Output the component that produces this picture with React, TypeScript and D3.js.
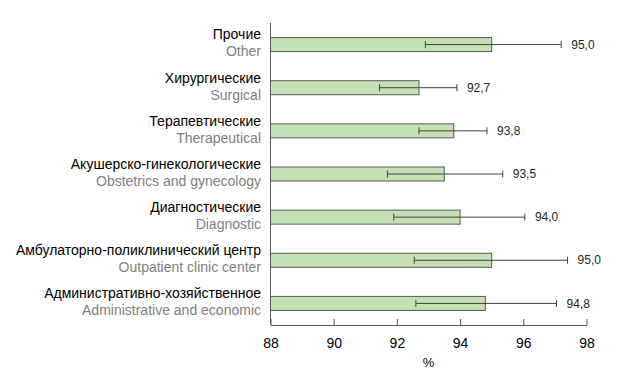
import React, { useEffect, useRef } from 'react';
import * as d3 from 'd3';

const categoriesRu = [
  'Прочие',
  'Хирургические',
  'Терапевтические',
  'Акушерско-гинекологические',
  'Диагностические',
  'Амбулаторно-поликлинический центр',
  'Административно-хозяйственное',
];
const categoriesEn = [
  'Other',
  'Surgical',
  'Therapeutical',
  'Obstetrics and gynecology',
  'Diagnostic',
  'Outpatient clinic center',
  'Administrative and economic',
];
const values = [95.0, 92.7, 93.8, 93.5, 94.0, 95.0, 94.8];
const ciLow = [92.9, 91.45, 92.7, 91.7, 91.9, 92.55, 92.6];
const ciHigh = [97.2, 93.9, 94.85, 95.35, 96.05, 97.4, 97.05];
const xTicks = [88, 90, 92, 94, 96, 98];

const App = () => {
  const ref = useRef<SVGSVGElement | null>(null);

  useEffect(() => {
    const width = 626;
    const height = 372;
    const left = 270.5;
    const right = 586.5;
    const top = 23;
    const bottom = 325;
    const font = '"Liberation Sans", Arial, sans-serif';

    const svg = d3.select(ref.current);
    svg.selectAll('*').remove();
    svg.attr('width', width).attr('height', height);

    const x = d3.scaleLinear().domain([88, 98]).range([left, right]);
    const y = d3.scaleBand<number>().domain(d3.range(values.length)).range([top, bottom]).padding(0);
    const bw = y.bandwidth();
    const barH = bw * 0.325;

    const rows = svg
      .selectAll('.row')
      .data(values)
      .enter()
      .append('g')
      .attr('class', 'row')
      .attr('transform', (_d, i) => `translate(0,${(y(i) as number) + bw / 2})`);

    // bars
    rows
      .append('rect')
      .attr('x', x(88))
      .attr('y', -barH / 2)
      .attr('width', d => x(d) - x(88))
      .attr('height', barH)
      .attr('fill', '#c5e0b4')
      .attr('stroke', '#5a5a5a')
      .attr('stroke-width', 1);

    // error bars
    rows
      .append('line')
      .attr('x1', (_d, i) => x(ciLow[i]))
      .attr('x2', (_d, i) => x(ciHigh[i]))
      .attr('stroke', '#404040');
    rows
      .append('line')
      .attr('x1', (_d, i) => x(ciLow[i]))
      .attr('x2', (_d, i) => x(ciLow[i]))
      .attr('y1', -3.5)
      .attr('y2', 3.5)
      .attr('stroke', '#404040');
    rows
      .append('line')
      .attr('x1', (_d, i) => x(ciHigh[i]))
      .attr('x2', (_d, i) => x(ciHigh[i]))
      .attr('y1', -3.5)
      .attr('y2', 3.5)
      .attr('stroke', '#404040');

    // value labels
    rows
      .append('text')
      .attr('x', (_d, i) => x(ciHigh[i]) + 10)
      .attr('dy', '0.35em')
      .style('font-family', font)
      .style('font-size', '12px')
      .style('fill', '#262626')
      .text(d => d.toFixed(1).replace('.', ','));

    // category labels
    rows
      .append('text')
      .attr('x', 261)
      .attr('y', -10)
      .attr('dy', '0.35em')
      .attr('text-anchor', 'end')
      .style('font-family', font)
      .style('font-size', '14px')
      .style('fill', '#000')
      .text((_d, i) => categoriesRu[i]);
    rows
      .append('text')
      .attr('x', 261)
      .attr('y', 7)
      .attr('dy', '0.35em')
      .attr('text-anchor', 'end')
      .style('font-family', font)
      .style('font-size', '14px')
      .style('fill', '#808080')
      .text((_d, i) => categoriesEn[i]);

    // y axis line
    svg
      .append('line')
      .attr('x1', left)
      .attr('x2', left)
      .attr('y1', top)
      .attr('y2', bottom)
      .attr('stroke', '#595959');

    // x axis
    const xAxis = svg
      .append('g')
      .attr('transform', `translate(0,${bottom})`)
      .call(
        d3
          .axisBottom(x)
          .tickValues(xTicks)
          .tickSizeInner(-6)
          .tickSizeOuter(0)
          .tickPadding(13)
          .tickFormat(d => String(d))
      );
    xAxis.select('.domain').attr('stroke', '#595959');
    xAxis.selectAll('.tick line').attr('stroke', '#595959');
    xAxis
      .selectAll('.tick text')
      .style('font-family', font)
      .style('font-size', '14px')
      .style('fill', '#000');

    svg
      .append('text')
      .attr('x', (left + right) / 2)
      .attr('y', 362)
      .attr('dy', '0.35em')
      .attr('text-anchor', 'middle')
      .style('font-family', font)
      .style('font-size', '13px')
      .style('fill', '#000')
      .text('%');
  }, []);

  return (
    <div>
      <svg ref={ref} style={{ position: 'absolute', left: 0, top: 0, background: '#fff' }} />
    </div>
  );
};

export default App;
